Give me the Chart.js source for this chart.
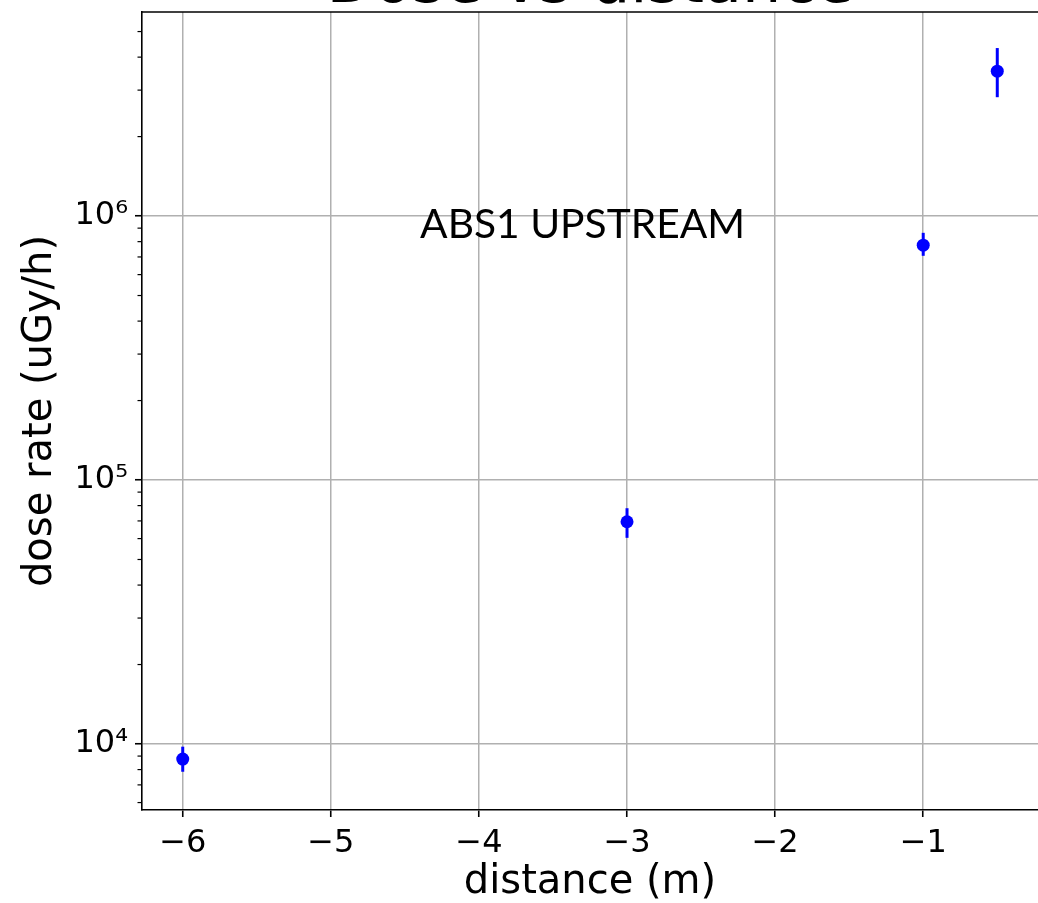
<!DOCTYPE html>
<html>
<head>
<meta charset="utf-8">
<script src="https://cdn.jsdelivr.net/npm/chart.js@4"></script>
<style>
  html, body { margin: 0; padding: 0; background: #fff; }
  canvas { display: block; }
</style>
</head>
<body>
<canvas id="c" width="1038" height="903"></canvas>
<script>
// Measured dose rate versus distance, with error bar limits
const distances = [-6, -3, -1, -0.5];
const doseRate  = [8770, 69500, 776000, 3540000];
const doseLow   = [7850, 60400, 707000, 2820000];
const doseHigh  = [9770, 78200, 864000, 4330000];

const xTicks = [-6, -5, -4, -3, -2, -1];
const yTicks = [1e4, 1e5, 1e6];

const chartTitle = 'Dose vs distance';
const xTitle = 'distance (m)';
const yTitle = 'dose rate (uGy/h)';
const noteText = 'ABS1 UPSTREAM';
const notePos = { x: -3.30, y: 8.25e5 };

const SUP = '⁰¹²³⁴⁵⁶⁷⁸⁹';
function powLabel(v) {
  const e = Math.round(Math.log10(v));
  return '10' + String(e).split('').map(c => SUP[+c]).join('');
}
function minusLabel(v) {
  return v < 0 ? '\u2212' + Math.abs(v) : String(v);
}
// keep the plot box fixed: no extra room reserved for edge tick labels
function noEdgePadding(s) {
  s.paddingTop = 0; s.paddingBottom = 0; s.paddingLeft = 0; s.paddingRight = 0;
}

Chart.defaults.font.family = '"DejaVu Sans", sans-serif';
Chart.defaults.color = '#000';

const decor = {
  id: 'decor',
  beforeDatasetsDraw(chart) {
    const { ctx, scales: { x, y } } = chart;
    ctx.save();
    ctx.strokeStyle = '#0000ff';
    ctx.lineWidth = 3;
    distances.forEach((d, i) => {
      const px = x.getPixelForValue(d);
      ctx.beginPath();
      ctx.moveTo(px, y.getPixelForValue(doseLow[i]));
      ctx.lineTo(px, y.getPixelForValue(doseHigh[i]));
      ctx.stroke();
    });
    ctx.restore();
  },
  afterDraw(chart) {
    const { ctx, chartArea: a, scales: { x, y } } = chart;
    ctx.save();
    // top frame line
    ctx.strokeStyle = '#000';
    ctx.lineWidth = 1.6;
    ctx.beginPath();
    ctx.moveTo(a.left, a.top);
    ctx.lineTo(a.right, a.top);
    ctx.stroke();
    // minor ticks on the log axis
    ctx.lineWidth = 1.2;
    for (let e = 3; e <= 7; e++) {
      for (let k = 2; k <= 9; k++) {
        const v = k * Math.pow(10, e);
        if (v < y.min || v > y.max) continue;
        const py = y.getPixelForValue(v);
        ctx.beginPath();
        ctx.moveTo(a.left, py);
        ctx.lineTo(a.left - 4.5, py);
        ctx.stroke();
      }
    }
    // chart title
    ctx.fillStyle = '#000';
    ctx.font = '62px "DejaVu Sans"';
    ctx.textAlign = 'center';
    ctx.textBaseline = 'alphabetic';
    ctx.fillText(chartTitle, (a.left + a.right) / 2, a.top - 10.5);
    // annotation
    ctx.font = '100px Lato';
    const w = ctx.measureText(noteText).width;
    const size = 100 * 325 / w;
    ctx.font = size.toFixed(2) + 'px Lato';
    ctx.fillText(noteText, x.getPixelForValue(notePos.x), y.getPixelForValue(notePos.y));
    ctx.restore();
  }
};

new Chart(document.getElementById('c'), {
  type: 'scatter',
  data: {
    datasets: [{
      data: distances.map((d, i) => ({ x: d, y: doseRate[i] })),
      backgroundColor: '#0000ff',
      borderColor: '#0000ff',
      borderWidth: 0,
      pointRadius: 6.5,
      pointHoverRadius: 6.5,
      showLine: false
    }]
  },
  options: {
    responsive: false,
    animation: false,
    events: [],
    layout: { autoPadding: false, padding: { top: 12, right: 0, bottom: 0, left: 0 } },
    plugins: {
      legend: { display: false },
      tooltip: { enabled: false },
      title: { display: false }
    },
    scales: {
      x: {
        type: 'linear',
        min: -6.275,
        max: -0.225,
        afterBuildTicks: s => { s.ticks = xTicks.map(v => ({ value: v })); },
        afterFit: s => { s.height = 93; noEdgePadding(s); },
        ticks: {
          callback: v => minusLabel(v),
          font: { size: 32 },
          color: '#000',
          padding: 7,
          maxRotation: 0
        },
        grid: { color: '#b0b0b0', lineWidth: 1.5, tickColor: '#000', tickLength: 7, tickWidth: 1.6 },
        border: { color: '#000', width: 1.6 },
        title: {
          display: true,
          text: xTitle,
          font: { size: 40, lineHeight: 1.0 },
          color: '#000',
          padding: { top: 0, bottom: 0 }
        }
      },
      y: {
        type: 'logarithmic',
        min: 5623,
        max: 5.93e6,
        afterBuildTicks: s => { s.ticks = yTicks.map(v => ({ value: v })); },
        afterFit: s => { s.width = 142; noEdgePadding(s); },
        ticks: {
          callback: v => powLabel(v),
          font: { size: 32 },
          color: '#000',
          padding: 7
        },
        grid: { color: '#b0b0b0', lineWidth: 1.5, tickColor: '#000', tickLength: 7, tickWidth: 1.6 },
        border: { color: '#000', width: 1.6 },
        title: {
          display: true,
          text: yTitle,
          font: { size: 40 },
          color: '#000',
          padding: { top: 17, bottom: 0 }
        }
      }
    }
  },
  plugins: [decor]
});
</script>
</body>
</html>
